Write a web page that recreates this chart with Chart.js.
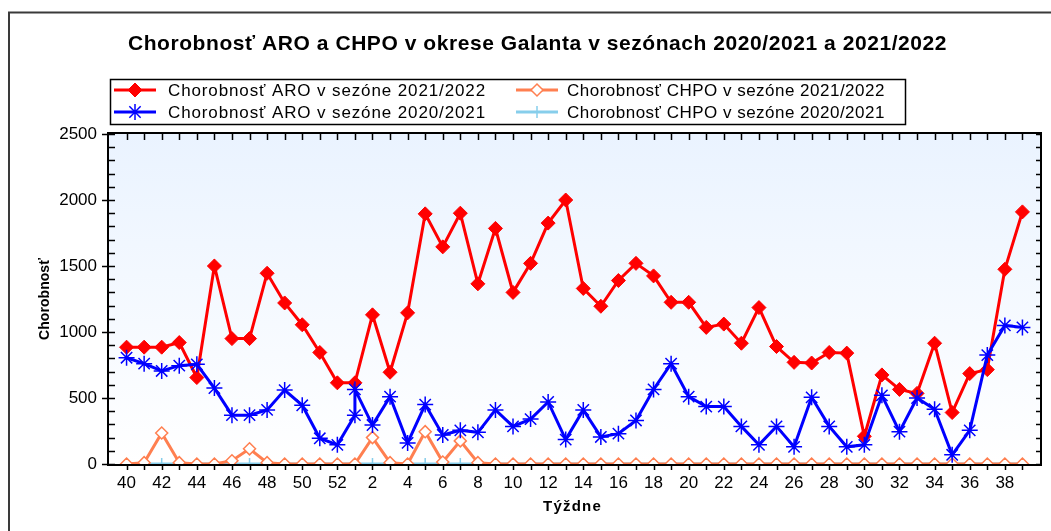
<!DOCTYPE html>
<html>
<head>
<meta charset="utf-8">
<script src="https://cdn.jsdelivr.net/npm/chart.js@4.4.1/dist/chart.umd.min.js"></script>
<style>
  html, body { margin: 0; padding: 0; background: #fff; }
  #chart { display: block; }
</style>
</head>
<body>
<canvas id="chart" width="1051" height="531"></canvas>
<script>
// ---- Data ----
const weekLabels = ['40','41','42','43','44','45','46','47','48','49','50','51','52',
  '1','2','3','4','5','6','7','8','9','10','11','12','13','14','15','16','17','18','19','20',
  '21','22','23','24','25','26','27','28','29','30','31','32','33','34','35','36','37','38','39'];

// ARO 2021/2022 (red)
const aro2122 = [885, 885, 885, 920, 655, 1500, 950, 950, 1445, 1220, 1055, 845, 615,
  615, 1130, 695, 1145, 1895, 1645, 1900, 1365, 1785, 1300, 1520, 1825, 2000, 1330, 1195, 1390, 1520, 1425, 1225, 1225,
  1035, 1060, 915, 1185, 890, 770, 765, 845, 840, 210, 675, 565, 535, 915, 390, 685, 715, 1475, 1910];

// CHPO 2021/2022 (orange)
const chpo2122 = [0, 10, 235, 10, 0, 0, 25, 115, 10, 0, 0, 0, 0,
  0, 200, 10, 0, 245, 15, 175, 10, 0, 0, 0, 0, 0, 0, 0, 0, 0, 0, 0, 0,
  0, 0, 0, 0, 0, 0, 0, 0, 0, 0, 0, 0, 0, 0, 0, 0, 0, 0, 0];

// ARO 2020/2021 (blue) - that season has a week 53, drawn on the week 1 slot
const aro2021Weeks = ['40','41','42','43','44','45','46','47','48','49','50','51','52','53',
  '1','2','3','4','5','6','7','8','9','10','11','12','13','14','15','16','17','18','19','20',
  '21','22','23','24','25','26','27','28','29','30','31','32','33','34','35','36','37','38','39'];
const aro2021 = [805, 760, 705, 745, 755, 575, 370, 370, 410, 560, 445, 195, 145, 370,
  565, 295, 510, 160, 450, 220, 255, 240, 410, 285, 340, 470, 185, 410, 205, 230, 330, 565, 760, 510,
  435, 435, 285, 145, 285, 130, 505, 285, 130, 145, 520, 245, 500, 415, 70, 255, 825, 1050, 1035];

// CHPO 2020/2021 (light blue)
const chpo2021 = weekLabels.map(() => 0);

const yMax = 2500;
const yStep = 500;
const yMinor = 100;

const titleText = 'Chorobnosť ARO a CHPO v okrese Galanta v sezónach 2020/2021 a 2021/2022';
const xTitle = 'Týždne';
const yTitle = 'Chorobnosť';

// ---- helpers ----
function slot(week) {
  return weekLabels.indexOf(week === '53' ? '1' : week);
}
function toPoints(values) {
  return values.map((v, i) => ({ x: i, y: v }));
}

// text stretched with letter spacing to a given width (the source font is wide-set)
function spacedText(ctx, text, x, y, width) {
  ctx.letterSpacing = '0px';
  const w = ctx.measureText(text).width;
  const sp = (width - w) / text.length;
  ctx.letterSpacing = sp.toFixed(2) + 'px';
  ctx.fillText(text, x, y);
  ctx.letterSpacing = '0px';
}

// ---- plugins ----
const backdrop = {
  id: 'backdrop',
  beforeDraw(chart) {
    const { ctx, chartArea: a } = chart;
    ctx.save();
    ctx.fillStyle = '#fff';
    ctx.fillRect(0, 0, chart.width, chart.height);
    const g = ctx.createLinearGradient(0, a.top, 0, a.bottom);
    g.addColorStop(0, '#eaf3ff');
    g.addColorStop(1, '#ffffff');
    ctx.fillStyle = g;
    ctx.fillRect(a.left, a.top, a.right - a.left, a.bottom - a.top);
    ctx.strokeStyle = '#3a3a3a';
    ctx.lineWidth = 2;
    ctx.strokeRect(9, 12.5, chart.width + 20, chart.height + 20);
    ctx.restore();
  }
};

const frameTicks = {
  id: 'frameTicks',
  afterDatasetsDraw(chart) {
    const { ctx, chartArea: a, scales: { x, y } } = chart;
    ctx.save();
    ctx.strokeStyle = '#000';
    ctx.lineWidth = 2;
    ctx.strokeRect(a.left - 1, a.top - 1, a.right - a.left + 2, a.bottom - a.top + 2);
    ctx.lineWidth = 1.5;
    ctx.beginPath();
    for (let i = 0; i < weekLabels.length; i++) {
      const px = Math.round(x.getPixelForValue(i)) + 0.5;
      ctx.moveTo(px, a.bottom); ctx.lineTo(px, a.bottom + 6);
      ctx.moveTo(px, a.top); ctx.lineTo(px, a.top + 6);
    }
    for (let v = 0; v <= yMax; v += yMinor) {
      const py = Math.round(y.getPixelForValue(v)) + 0.5;
      const major = v % yStep === 0;
      ctx.moveTo(a.left - (major ? 7 : 1), py); ctx.lineTo(a.left + 6, py);
      ctx.moveTo(a.right - 4, py); ctx.lineTo(a.right, py);
    }
    ctx.stroke();
    ctx.restore();
  }
};

const annotations = {
  id: 'annotations',
  afterDraw(chart) {
    const { ctx, chartArea: a } = chart;
    ctx.save();
    ctx.fillStyle = '#000';

    // title
    ctx.font = 'bold 21px "Liberation Sans", Arial, sans-serif';
    ctx.textAlign = 'left';
    ctx.textBaseline = 'alphabetic';
    spacedText(ctx, titleText, 128, 50, 819);

    // axis titles
    ctx.font = 'bold 15px "Liberation Sans", Arial, sans-serif';
    ctx.textBaseline = 'middle';
    spacedText(ctx, xTitle, 543, 507, 59);
    ctx.save();
    ctx.translate(45, (a.top + a.bottom) / 2);
    ctx.rotate(-Math.PI / 2);
    ctx.font = 'bold 14px "Liberation Sans", Arial, sans-serif';
    spacedText(ctx, yTitle, -41, 0, 82);
    ctx.restore();

    // legend box
    ctx.strokeStyle = '#000';
    ctx.lineWidth = 1.5;
    ctx.strokeRect(110.5, 79.5, 795, 45);
    const cols = [{ sym: 135, text: 168 }, { sym: 537, text: 567 }];
    const rows = [90, 112];
    ctx.font = '17px "Liberation Sans", Arial, sans-serif';
    chart.data.datasets.forEach((ds, i) => {
      const c = cols[i % 2];
      const cy = rows[Math.floor(i / 2)];
      ctx.strokeStyle = ds.borderColor;
      ctx.lineWidth = 3;
      ctx.beginPath();
      ctx.moveTo(c.sym - 21, cy); ctx.lineTo(c.sym + 21, cy);
      ctx.stroke();
      ctx.fillStyle = ds.pointBackgroundColor;
      ctx.strokeStyle = ds.borderColor;
      ctx.lineWidth = ds.pointBorderWidth;
      Chart.helpers.drawPoint(ctx, {
        pointStyle: ds.pointStyle, radius: ds.pointRadius, rotation: 0, borderWidth: ds.pointBorderWidth
      }, c.sym, cy);
      ctx.fillStyle = '#000';
      ctx.textBaseline = 'middle';
      spacedText(ctx, ds.label, c.text, cy + 1, 318);
    });
    ctx.restore();
  }
};

// ---- chart ----
const tickFont = { family: '"Liberation Sans", Arial, sans-serif', size: 17 };

new Chart(document.getElementById('chart'), {
  type: 'line',
  data: {
    datasets: [
      {
        label: 'Chorobnosť ARO v sezóne 2021/2022',
        data: toPoints(aro2122),
        borderColor: '#ff0000',
        pointBackgroundColor: '#ff0000',
        pointBorderColor: '#ff0000',
        pointStyle: 'rectRot',
        pointRadius: 7,
        pointBorderWidth: 1,
        borderWidth: 3,
        order: 3
      },
      {
        label: 'Chorobnosť CHPO v sezóne 2021/2022',
        data: toPoints(chpo2122),
        borderColor: '#ff7f50',
        pointBackgroundColor: '#ffffff',
        pointBorderColor: '#ff7f50',
        pointStyle: 'rectRot',
        pointRadius: 6,
        pointBorderWidth: 1.5,
        borderWidth: 3,
        order: 2
      },
      {
        label: 'Chorobnosť ARO v sezóne 2020/2021',
        data: aro2021.map((v, i) => ({ x: slot(aro2021Weeks[i]), y: v })),
        borderColor: '#0000ff',
        pointBackgroundColor: '#0000ff',
        pointBorderColor: '#0000ff',
        pointStyle: 'star',
        pointRadius: 8,
        pointBorderWidth: 1.5,
        borderWidth: 3,
        order: 1
      },
      {
        label: 'Chorobnosť CHPO v sezóne 2020/2021',
        data: toPoints(chpo2021),
        borderColor: '#87ceeb',
        pointBackgroundColor: '#87ceeb',
        pointBorderColor: '#87ceeb',
        pointStyle: 'cross',
        pointRadius: 6,
        pointBorderWidth: 1.5,
        borderWidth: 3,
        order: 4
      }
    ]
  },
  options: {
    responsive: false,
    animation: false,
    events: [],
    layout: { padding: { top: 134, left: 0, right: 11, bottom: 0 } },
    elements: { line: { tension: 0 } },
    plugins: { legend: { display: false }, title: { display: false }, tooltip: { enabled: false } },
    scales: {
      x: {
        type: 'linear',
        min: -1,
        max: weekLabels.length,
        afterFit: s => { s.height = 67; },
        grid: { display: false, drawTicks: false },
        border: { display: false },
        ticks: {
          stepSize: 1,
          autoSkip: false,
          maxRotation: 0,
          padding: 9,
          color: '#000',
          font: tickFont,
          callback: v => (v >= 0 && v < weekLabels.length && v % 2 === 0) ? weekLabels[v] : ''
        }
      },
      y: {
        min: 0,
        max: yMax,
        afterFit: s => { s.width = 109; },
        grid: { display: false, drawTicks: false },
        border: { display: false },
        ticks: { stepSize: yStep, padding: 12, color: '#000', font: tickFont, callback: v => String(v) }
      }
    }
  },
  plugins: [backdrop, frameTicks, annotations]
});
</script>
</body>
</html>
